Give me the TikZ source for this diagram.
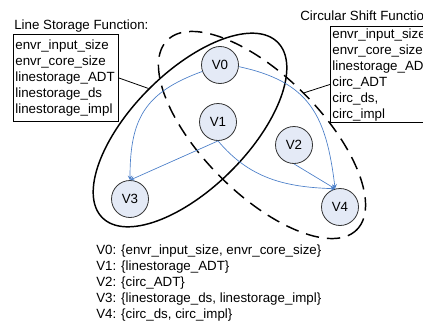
\documentclass[tikz,border=0pt]{standalone}
\usepackage{fontspec}
\setmainfont{Liberation Sans}
\usetikzlibrary{shapes.geometric}

\definecolor{vfill}{RGB}{228,234,246}
\definecolor{edgeblue}{RGB}{74,126,200}

\tikzset{
  vnode/.style={circle, draw=black!80, line width=0.6pt, fill=vfill, minimum size=27.75pt, inner sep=0pt},
  edge/.style={->, >=stealth, edgeblue, line width=0.5pt},
  infobox/.style={draw, line width=0.6pt, align=left, inner xsep=1.5pt, anchor=north west},
  group/.style={draw, ellipse, line width=1.1pt, inner sep=0pt}
}

\begin{document}
\begin{tikzpicture}[x=0.75pt, y=0.75pt, font=\fontsize{10}{12}\selectfont]
\clip (0,0) rectangle (423,322);

% Groups
\node[group, rotate=45, minimum width=186pt, minimum height=87pt] (lsgroup) at (190,192) {};
\node[group, dash pattern=on 10pt off 6pt, rotate=-45, minimum width=201pt, minimum height=88.5pt] (csgroup) at (262,187) {};

% Function boxes
\node[anchor=base west, inner sep=0pt] (lstitle) at (14,292) {Line Storage Function:};
\node[infobox, inner ysep=4pt, text width=75.75pt] (lsbox) at (13,288) {envr\_input\_size\\envr\_core\_size\\linestorage\_ADT\\linestorage\_ds\\linestorage\_impl};
\node[anchor=base west, inner sep=0pt] (cstitle) at (300,301) {Circular Shift Function:};
\node[infobox, inner ysep=1.5pt, text width=80pt] (csbox) at (330,296) {envr\_input\_size\\envr\_core\_size\\linestorage\_ADT\\circ\_ADT\\circ\_ds,\\circ\_impl};
\draw[line width=0.6pt] (lsbox.east) -- (lsgroup.north);
\draw[line width=0.6pt] (csbox.190) -- (csgroup.north);

% Vertices
\node[vnode] (V0) at (220,257) {V0};
\node[vnode] (V1) at (218,200) {V1};
\node[vnode] (V2) at (294,177) {V2};
\node[vnode] (V3) at (130,123) {V3};
\node[vnode] (V4) at (340,115) {V4};

% Dependencies
\draw[edge] (V0.200) to[out=200, in=90, looseness=1.2] (V3.north);
\draw[edge] (V1.south) -- (V3.north);
\draw[edge] (V0.-5) to[out=-12, in=97, looseness=1.2] (V4.105);
\draw[edge] (V1.south) to[out=-50, in=178] (V4.105);
\draw[edge] (V2.south) -- (V4.105);

% Legend
\node[anchor=north west, inner sep=0pt, align=left] (legend) at (96,77) {V0: \{envr\_input\_size, envr\_core\_size\}\\V1: \{linestorage\_ADT\}\\V2: \{circ\_ADT\}\\V3: \{linestorage\_ds, linestorage\_impl\}\\V4: \{circ\_ds, circ\_impl\}};
\end{tikzpicture}
\end{document}
